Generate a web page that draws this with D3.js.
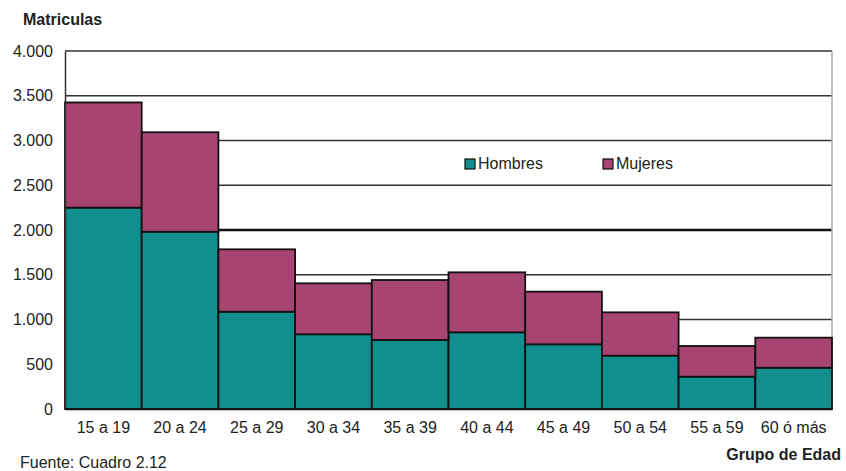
<!DOCTYPE html>
<html><head><meta charset="utf-8">
<script src="https://cdn.jsdelivr.net/npm/d3@7"></script>
<style>body{margin:0;background:#fff}svg{display:block}text{font-family:"Liberation Sans",Arial,sans-serif;fill:#222}</style>
</head><body><svg id="c" width="846" height="471"></svg>
<script>
const categories = ["15 a 19","20 a 24","25 a 29","30 a 34","35 a 39","40 a 44","45 a 49","50 a 54","55 a 59","60 ó más"];
const hombres = [2250,1980,1087,835,771,857,723,596,361,461];
const mujeres = [1175,1112,697,569,670,670,588,484,343,336];
const yTicks = [0,500,1000,1500,2000,2500,3000,3500,4000];
const yTickLabels = ["0","500","1.000","1.500","2.000","2.500","3.000","3.500","4.000"];
const seriesNames = ["Hombres","Mujeres"];
const colors = ["#118e8e","#a84472"];

const svg = d3.select("#c");
const x = d3.scaleBand().domain(categories).range([65,832]).padding(0);
const y = d3.scaleLinear().domain([0,4000]).range([409,51]);

// gridlines
svg.append("g").selectAll("line").data(yTicks.filter(d=>d>0)).join("line")
  .attr("x1",65).attr("x2",832).attr("y1",d=>y(d)).attr("y2",d=>y(d))
  .attr("stroke",d=>d===2000?"#111":"#333").attr("stroke-width",d=>d===2000?2.5:1.3);

// right border
svg.append("line").attr("x1",832).attr("x2",832).attr("y1",51).attr("y2",409).attr("stroke","#aaa").attr("stroke-width",1.5);

// stacked bars
const rows = categories.map((c,i)=>({cat:c,Hombres:hombres[i],Mujeres:mujeres[i]}));
const stack = d3.stack().keys(seriesNames)(rows);
svg.append("g").selectAll("g").data(stack).join("g").attr("fill",(d,i)=>colors[i])
  .selectAll("rect").data(d=>d).join("rect")
  .attr("x",d=>x(d.data.cat)).attr("width",x.bandwidth())
  .attr("y",d=>y(d[1])).attr("height",d=>y(d[0])-y(d[1]))
  .attr("stroke","#111").attr("stroke-width",1.8);

// left axis
const ya = svg.append("g").attr("transform","translate(65,0)")
  .call(d3.axisLeft(y).tickValues(yTicks).tickFormat((d,i)=>yTickLabels[i]).tickSize(0).tickPadding(12));
ya.select(".domain").attr("stroke","#333").attr("stroke-width",1.5);
ya.selectAll("text").attr("font-size",16).attr("font-family","Liberation Sans, Arial, sans-serif").attr("fill","#333");

// bottom axis
const xa = svg.append("g").attr("transform","translate(0,409)")
  .call(d3.axisBottom(x).tickSize(0).tickPadding(13));
xa.select(".domain").attr("stroke","#111").attr("stroke-width",1.5);
xa.selectAll("text").attr("font-size",16).attr("font-family","Liberation Sans, Arial, sans-serif").attr("fill","#333");

// titles
svg.append("text").attr("x",23).attr("y",25).attr("font-size",16).attr("font-weight","bold").text("Matriculas");
svg.append("text").attr("x",841).attr("y",460).attr("text-anchor","end").attr("font-size",16).attr("font-weight","bold").text("Grupo de Edad");
svg.append("text").attr("x",20).attr("y",468).attr("font-size",16).attr("fill","#333").text("Fuente: Cuadro 2.12");

// legend
const legX = [465,603];
const lg = svg.append("g").selectAll("g").data(seriesNames).join("g")
  .attr("transform",(d,i)=>`translate(${legX[i]},159)`);
lg.append("rect").attr("width",10).attr("height",10).attr("fill",(d,i)=>colors[i]).attr("stroke","#111").attr("stroke-width",1.2);
lg.append("text").attr("x",13).attr("y",10).attr("font-size",16).attr("fill","#333").text(d=>d);
</script></body></html>
